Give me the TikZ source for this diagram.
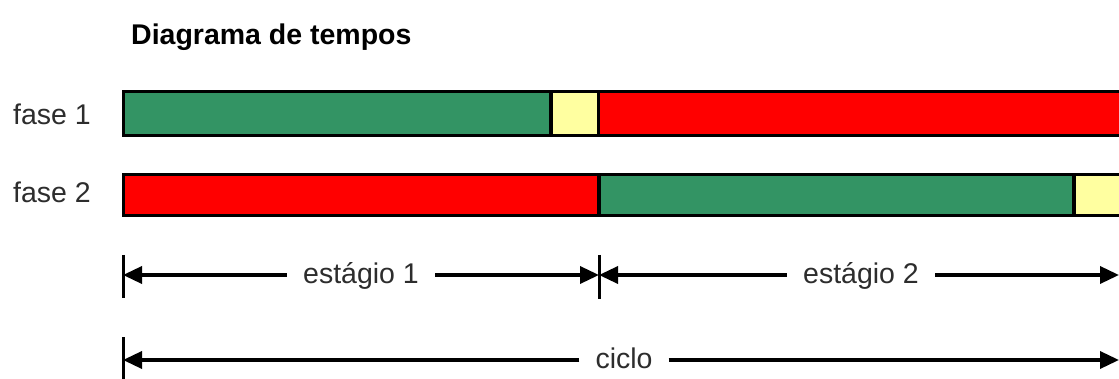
\documentclass[tikz,border=0pt]{standalone}
\usepackage{fontspec}
\setmainfont{Liberation Sans}
\usetikzlibrary{arrows.meta}
\definecolor{fgreen}{RGB}{51,148,100}
\definecolor{fred}{RGB}{255,0,0}
\definecolor{fyellow}{RGB}{255,255,160}
\definecolor{labgray}{RGB}{45,45,45}
\tikzset{
  seg/.style={draw=black,line width=3.5pt},
  lab/.style={font=\fontsize{28.5}{30}\selectfont,text=labgray,inner sep=0pt},
  dimlab/.style={lab,inner xsep=16pt,inner ysep=0pt},
  dimline/.style={line width=3.5pt,-{Triangle[length=19pt,width=17pt]}},
  tickline/.style={line width=3pt}
}
\begin{document}
\begin{tikzpicture}[x=1pt,y=-1pt]
\useasboundingbox (0,0) rectangle (1119,379);
\fill[white] (0,0) rectangle (1119,379);
\clip (0,0) rectangle (1119,379);

% title
\node[anchor=base west,font=\bfseries\fontsize{28.5}{30}\selectfont,inner sep=0pt] (title) at (131,45) {Diagrama de tempos};

% phase labels
\node[lab,anchor=base west] (f1) at (13,125) {fase 1};
\node[lab,anchor=base west] (f2) at (13,203) {fase 2};

% bar 1
\fill[fgreen] (123.5,91.5) rectangle (551,135.5);
\fill[fyellow] (551,91.5) rectangle (598.5,135.5);
\fill[fred] (598.5,91.5) rectangle (1130,135.5);
\draw[seg] (551,91.5) -- (551,135.5);
\draw[seg] (598.5,91.5) -- (598.5,135.5);
\draw[seg] (123.5,91.5) rectangle (1130,135.5);

% bar 2
\fill[fred] (123.5,174.5) rectangle (599,215.5);
\fill[fgreen] (599,174.5) rectangle (1074,215.5);
\fill[fyellow] (1074,174.5) rectangle (1130,215.5);
\draw[seg] (599,174.5) -- (599,215.5);
\draw[seg] (1074,174.5) -- (1074,215.5);
\draw[seg] (123.5,174.5) rectangle (1130,215.5);

% dimension row 1
\coordinate (a0) at (123,275);
\coordinate (a1) at (599,275);
\coordinate (a2) at (1119,275);
\draw[tickline] (123,255) -- (123,298);
\draw[tickline] (599,255) -- (599,299);
\node[dimlab,anchor=base] (e1) at (361,284) {estágio 1};
\node[dimlab,anchor=base] (e2) at (861,284) {estágio 2};
\draw[dimline] (a0 -| e1.west) -- (a0);
\draw[dimline] (a0 -| e1.east) -- (a1);
\draw[dimline] (a1 -| e2.west) -- (a1);
\draw[dimline] (a1 -| e2.east) -- (a2);

% dimension row 2
\coordinate (b0) at (123,360);
\coordinate (b1) at (1119,360);
\draw[tickline] (123,337) -- (123,381);
\node[dimlab,anchor=base] (cy) at (624,368) {ciclo};
\draw[dimline] (b0 -| cy.west) -- (b0);
\draw[dimline] (b0 -| cy.east) -- (b1);
\end{tikzpicture}
\end{document}
